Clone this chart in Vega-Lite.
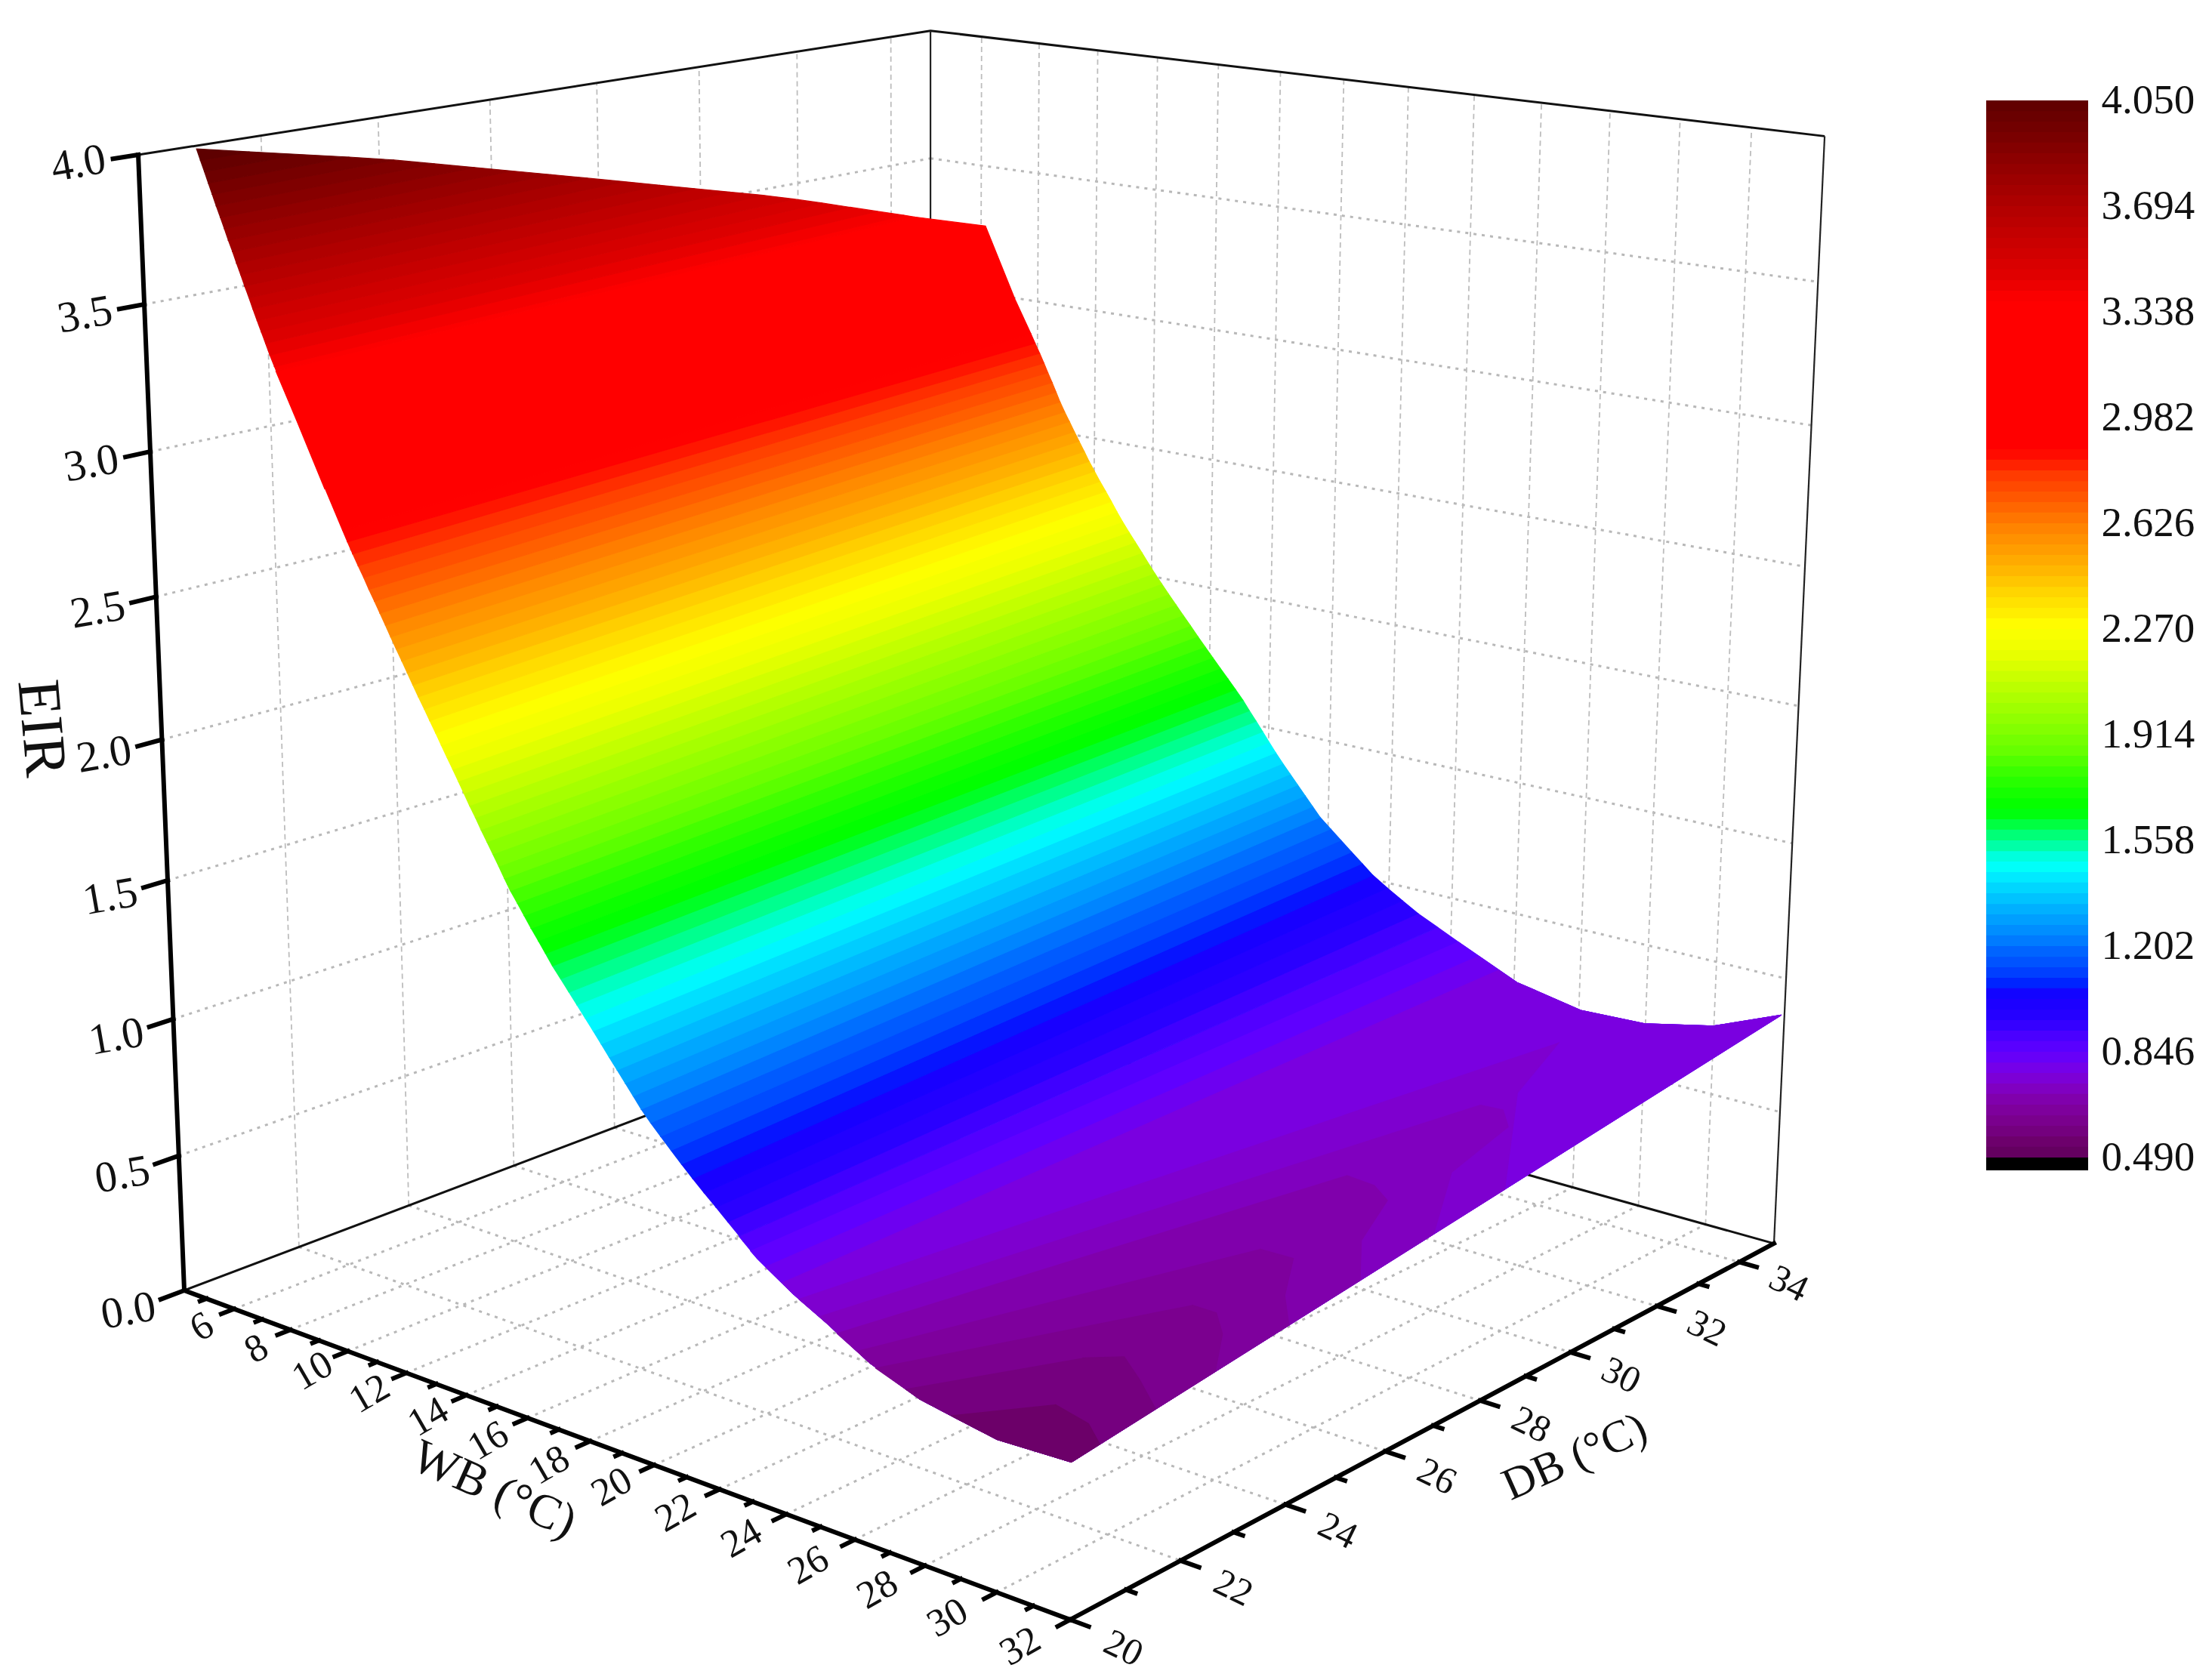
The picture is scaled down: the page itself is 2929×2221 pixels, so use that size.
{"$schema":"https://vega.github.io/schema/vega-lite/v6.json","autosize":{"type":"fit","contains":"padding"},"width":2929,"height":2221,"padding":0,"background":"white","config":{"view":{"stroke":null}},"resolve":{"scale":{"x":"independent","y":"independent"}},
"datasets":{"geo":[
{"t":"dot","i":1,"o":[1,2],"w":[6,6],"d":[20,34.87],"z":[0,0]},{"t":"dot","i":2,"o":[1,2],"w":[8,8],"d":[20,34.87],"z":[0,0]},{"t":"dot","i":3,"o":[1,2],"w":[10,10],"d":[20,34.87],"z":[0,0]},{"t":"dot","i":4,"o":[1,2],"w":[12,12],"d":[20,34.87],"z":[0,0]},{"t":"dot","i":5,"o":[1,2],"w":[14,14],"d":[20,34.87],"z":[0,0]},{"t":"dot","i":6,"o":[1,2],"w":[16,16],"d":[20,34.87],"z":[0,0]},{"t":"dot","i":7,"o":[1,2],"w":[18,18],"d":[20,34.87],"z":[0,0]},{"t":"dot","i":8,"o":[1,2],"w":[20,20],"d":[20,34.87],"z":[0,0]},{"t":"dot","i":9,"o":[1,2],"w":[22,22],"d":[20,34.87],"z":[0,0]},{"t":"dot","i":10,"o":[1,2],"w":[24,24],"d":[20,34.87],"z":[0,0]},{"t":"dot","i":11,"o":[1,2],"w":[26,26],"d":[20,34.87],"z":[0,0]},{"t":"dot","i":12,"o":[1,2],"w":[28,28],"d":[20,34.87],"z":[0,0]},{"t":"dot","i":13,"o":[1,2],"w":[30,30],"d":[20,34.87],"z":[0,0]},
{"t":"dot","i":14,"o":[1,2],"w":[4.19,32],"d":[22,22],"z":[0,0]},{"t":"dot","i":15,"o":[1,2],"w":[4.19,32],"d":[24,24],"z":[0,0]},{"t":"dot","i":16,"o":[1,2],"w":[4.19,32],"d":[26,26],"z":[0,0]},{"t":"dot","i":17,"o":[1,2],"w":[4.19,32],"d":[28,28],"z":[0,0]},{"t":"dot","i":18,"o":[1,2],"w":[4.19,32],"d":[30,30],"z":[0,0]},{"t":"dot","i":19,"o":[1,2],"w":[4.19,32],"d":[32,32],"z":[0,0]},{"t":"dot","i":20,"o":[1,2],"w":[4.19,32],"d":[34,34],"z":[0,0]},
{"t":"dot","i":21,"o":[1,2],"w":[4.19,4.19],"d":[20,34.87],"z":[0.5,0.5]},{"t":"dot","i":22,"o":[1,2],"w":[4.19,4.19],"d":[20,34.87],"z":[1,1]},{"t":"dot","i":23,"o":[1,2],"w":[4.19,4.19],"d":[20,34.87],"z":[1.5,1.5]},{"t":"dot","i":24,"o":[1,2],"w":[4.19,4.19],"d":[20,34.87],"z":[2,2]},{"t":"dot","i":25,"o":[1,2],"w":[4.19,4.19],"d":[20,34.87],"z":[2.5,2.5]},{"t":"dot","i":26,"o":[1,2],"w":[4.19,4.19],"d":[20,34.87],"z":[3,3]},{"t":"dot","i":27,"o":[1,2],"w":[4.19,4.19],"d":[20,34.87],"z":[3.5,3.5]},
{"t":"dot","i":28,"o":[1,2],"w":[4.19,32],"d":[34.87,34.87],"z":[0.5,0.5]},{"t":"dot","i":29,"o":[1,2],"w":[4.19,32],"d":[34.87,34.87],"z":[1,1]},{"t":"dot","i":30,"o":[1,2],"w":[4.19,32],"d":[34.87,34.87],"z":[1.5,1.5]},{"t":"dot","i":31,"o":[1,2],"w":[4.19,32],"d":[34.87,34.87],"z":[2,2]},{"t":"dot","i":32,"o":[1,2],"w":[4.19,32],"d":[34.87,34.87],"z":[2.5,2.5]},{"t":"dot","i":33,"o":[1,2],"w":[4.19,32],"d":[34.87,34.87],"z":[3,3]},{"t":"dot","i":34,"o":[1,2],"w":[4.19,32],"d":[34.87,34.87],"z":[3.5,3.5]},
{"t":"dash","i":40,"o":[1,2],"w":[4.19,4.19],"d":[22,22],"z":[0,4]},{"t":"dash","i":41,"o":[1,2],"w":[4.19,4.19],"d":[24,24],"z":[0,4]},{"t":"dash","i":42,"o":[1,2],"w":[4.19,4.19],"d":[26,26],"z":[0,4]},{"t":"dash","i":43,"o":[1,2],"w":[4.19,4.19],"d":[28,28],"z":[0,4]},{"t":"dash","i":44,"o":[1,2],"w":[4.19,4.19],"d":[30,30],"z":[0,4]},{"t":"dash","i":45,"o":[1,2],"w":[4.19,4.19],"d":[32,32],"z":[0,4]},{"t":"dash","i":46,"o":[1,2],"w":[4.19,4.19],"d":[34,34],"z":[0,4]},
{"t":"dash","i":47,"o":[1,2],"w":[6,6],"d":[34.87,34.87],"z":[0,4]},{"t":"dash","i":48,"o":[1,2],"w":[8,8],"d":[34.87,34.87],"z":[0,4]},{"t":"dash","i":49,"o":[1,2],"w":[10,10],"d":[34.87,34.87],"z":[0,4]},{"t":"dash","i":50,"o":[1,2],"w":[12,12],"d":[34.87,34.87],"z":[0,4]},{"t":"dash","i":51,"o":[1,2],"w":[14,14],"d":[34.87,34.87],"z":[0,4]},{"t":"dash","i":52,"o":[1,2],"w":[16,16],"d":[34.87,34.87],"z":[0,4]},{"t":"dash","i":53,"o":[1,2],"w":[18,18],"d":[34.87,34.87],"z":[0,4]},{"t":"dash","i":54,"o":[1,2],"w":[20,20],"d":[34.87,34.87],"z":[0,4]},{"t":"dash","i":55,"o":[1,2],"w":[22,22],"d":[34.87,34.87],"z":[0,4]},{"t":"dash","i":56,"o":[1,2],"w":[24,24],"d":[34.87,34.87],"z":[0,4]},{"t":"dash","i":57,"o":[1,2],"w":[26,26],"d":[34.87,34.87],"z":[0,4]},{"t":"dash","i":58,"o":[1,2],"w":[28,28],"d":[34.87,34.87],"z":[0,4]},{"t":"dash","i":59,"o":[1,2],"w":[30,30],"d":[34.87,34.87],"z":[0,4]},
{"t":"frame","i":60,"o":[1,2,3],"w":[4.19,4.19,32],"d":[20,34.87,34.87],"z":[0,0,0]},{"t":"frame","i":61,"o":[1,2,3],"w":[4.19,4.19,32],"d":[20,34.87,34.87],"z":[4,4,4]},
{"t":"hair","i":62,"o":[1,2],"w":[4.19,4.19],"d":[34.87,34.87],"z":[0,4]},{"t":"hair","i":63,"o":[1,2],"w":[32,32],"d":[34.87,34.87],"z":[0,4]},
{"t":"axis","i":70,"o":[1,2],"w":[4.19,32],"d":[20,20],"z":[0,0]},{"t":"axis","i":71,"o":[1,2],"w":[32,32],"d":[20,34.87],"z":[0,0]},{"t":"axis","i":72,"o":[1,2],"w":[4.19,4.19],"d":[20,20],"z":[0,4]},
{"t":"axis","i":73,"o":[1,2],"w":[4.19,4.19],"d":[20,19.6],"z":[0,0]},{"t":"axis","i":74,"o":[1,2],"w":[4.19,4.19],"d":[20,19.6],"z":[0.5,0.5]},{"t":"axis","i":75,"o":[1,2],"w":[4.19,4.19],"d":[20,19.6],"z":[1,1]},{"t":"axis","i":76,"o":[1,2],"w":[4.19,4.19],"d":[20,19.6],"z":[1.5,1.5]},{"t":"axis","i":77,"o":[1,2],"w":[4.19,4.19],"d":[20,19.6],"z":[2,2]},{"t":"axis","i":78,"o":[1,2],"w":[4.19,4.19],"d":[20,19.6],"z":[2.5,2.5]},{"t":"axis","i":79,"o":[1,2],"w":[4.19,4.19],"d":[20,19.6],"z":[3,3]},{"t":"axis","i":80,"o":[1,2],"w":[4.19,4.19],"d":[20,19.6],"z":[3.5,3.5]},{"t":"axis","i":81,"o":[1,2],"w":[4.19,4.19],"d":[20,19.6],"z":[4,4]},
{"t":"axis","i":82,"o":[1,2],"w":[6,6],"d":[20,19.78],"z":[0,0]},{"t":"axis","i":83,"o":[1,2],"w":[8,8],"d":[20,19.78],"z":[0,0]},{"t":"axis","i":84,"o":[1,2],"w":[10,10],"d":[20,19.78],"z":[0,0]},{"t":"axis","i":85,"o":[1,2],"w":[12,12],"d":[20,19.78],"z":[0,0]},{"t":"axis","i":86,"o":[1,2],"w":[14,14],"d":[20,19.78],"z":[0,0]},{"t":"axis","i":87,"o":[1,2],"w":[16,16],"d":[20,19.78],"z":[0,0]},{"t":"axis","i":88,"o":[1,2],"w":[18,18],"d":[20,19.78],"z":[0,0]},{"t":"axis","i":89,"o":[1,2],"w":[20,20],"d":[20,19.78],"z":[0,0]},{"t":"axis","i":90,"o":[1,2],"w":[22,22],"d":[20,19.78],"z":[0,0]},{"t":"axis","i":91,"o":[1,2],"w":[24,24],"d":[20,19.78],"z":[0,0]},{"t":"axis","i":92,"o":[1,2],"w":[26,26],"d":[20,19.78],"z":[0,0]},{"t":"axis","i":93,"o":[1,2],"w":[28,28],"d":[20,19.78],"z":[0,0]},{"t":"axis","i":94,"o":[1,2],"w":[30,30],"d":[20,19.78],"z":[0,0]},{"t":"axis","i":95,"o":[1,2],"w":[32,32],"d":[20,19.78],"z":[0,0]},
{"t":"axis","i":96,"o":[1,2],"w":[5,5],"d":[20,19.89],"z":[0,0]},{"t":"axis","i":97,"o":[1,2],"w":[7,7],"d":[20,19.89],"z":[0,0]},{"t":"axis","i":98,"o":[1,2],"w":[9,9],"d":[20,19.89],"z":[0,0]},{"t":"axis","i":99,"o":[1,2],"w":[11,11],"d":[20,19.89],"z":[0,0]},{"t":"axis","i":100,"o":[1,2],"w":[13,13],"d":[20,19.89],"z":[0,0]},{"t":"axis","i":101,"o":[1,2],"w":[15,15],"d":[20,19.89],"z":[0,0]},{"t":"axis","i":102,"o":[1,2],"w":[17,17],"d":[20,19.89],"z":[0,0]},{"t":"axis","i":103,"o":[1,2],"w":[19,19],"d":[20,19.89],"z":[0,0]},{"t":"axis","i":104,"o":[1,2],"w":[21,21],"d":[20,19.89],"z":[0,0]},{"t":"axis","i":105,"o":[1,2],"w":[23,23],"d":[20,19.89],"z":[0,0]},{"t":"axis","i":106,"o":[1,2],"w":[25,25],"d":[20,19.89],"z":[0,0]},{"t":"axis","i":107,"o":[1,2],"w":[27,27],"d":[20,19.89],"z":[0,0]},{"t":"axis","i":108,"o":[1,2],"w":[29,29],"d":[20,19.89],"z":[0,0]},{"t":"axis","i":109,"o":[1,2],"w":[31,31],"d":[20,19.89],"z":[0,0]},
{"t":"axis","i":110,"o":[1,2],"w":[32,32.5],"d":[20,20],"z":[0,0]},{"t":"axis","i":111,"o":[1,2],"w":[32,32.5],"d":[22,22],"z":[0,0]},{"t":"axis","i":112,"o":[1,2],"w":[32,32.5],"d":[24,24],"z":[0,0]},{"t":"axis","i":113,"o":[1,2],"w":[32,32.5],"d":[26,26],"z":[0,0]},{"t":"axis","i":114,"o":[1,2],"w":[32,32.5],"d":[28,28],"z":[0,0]},{"t":"axis","i":115,"o":[1,2],"w":[32,32.5],"d":[30,30],"z":[0,0]},{"t":"axis","i":116,"o":[1,2],"w":[32,32.5],"d":[32,32],"z":[0,0]},{"t":"axis","i":117,"o":[1,2],"w":[32,32.5],"d":[34,34],"z":[0,0]},
{"t":"axis","i":118,"o":[1,2],"w":[32,32.25],"d":[21,21],"z":[0,0]},{"t":"axis","i":119,"o":[1,2],"w":[32,32.25],"d":[23,23],"z":[0,0]},{"t":"axis","i":120,"o":[1,2],"w":[32,32.25],"d":[25,25],"z":[0,0]},{"t":"axis","i":121,"o":[1,2],"w":[32,32.25],"d":[27,27],"z":[0,0]},{"t":"axis","i":122,"o":[1,2],"w":[32,32.25],"d":[29,29],"z":[0,0]},{"t":"axis","i":123,"o":[1,2],"w":[32,32.25],"d":[31,31],"z":[0,0]},{"t":"axis","i":124,"o":[1,2],"w":[32,32.25],"d":[33,33],"z":[0,0]},
{"t":"s","b":0.864,"o":[1,2,3,4,5,6,7,8,9,10,11,12,13,14,15,16],"w":[22.67,23.21,24.25,25.22,26.45,27.86,28.72,30,32,32,30.07,28.07,26.15,24.19,22.43,21.68],"d":[20,20,20,20,20,20,20,20,20,34.79,34.79,34.79,34.79,34.79,34.79,34.79],"z":[0.882,0.827,0.75,0.69,0.607,0.544,0.526,0.5,0.51,0.87,0.766,0.71,0.7,0.745,0.84,0.882]},
{"t":"s","b":0.828,"o":[1,2,3,4,5,6,7,8,9,10,11,12,13,14,15,16],"w":[23,23.21,24.25,25.22,26.45,27.86,28.72,30,32,32,30.07,28.07,26.15,24.19,22.43,22.33],"d":[20,20,20,20,20,20,20,20,20,34.79,34.79,34.79,34.79,34.79,34.79,34.79],"z":[0.846,0.827,0.75,0.69,0.607,0.544,0.526,0.5,0.51,0.87,0.766,0.71,0.7,0.745,0.84,0.846]},
{"t":"s","b":0.793,"o":[1,2,3,4,5,6,7,8,9,10,11,12,13,14],"w":[23.44,24.25,25.22,26.45,27.86,28.72,30,32,32,30.07,28.07,26.15,24.19,22.97],"d":[20,20,20,20,20,20,20,20,34.79,34.79,34.79,34.79,34.79,34.79],"z":[0.81,0.75,0.69,0.607,0.544,0.526,0.5,0.51,0.87,0.766,0.71,0.7,0.745,0.81]},
{"t":"s","b":0.757,"o":[1,2,3,4,5,6,7,8,9,10,11,12,13,14],"w":[23.92,24.25,25.22,26.45,27.86,28.72,30,32,32,30.07,28.07,26.15,24.19,23.6],"d":[20,20,20,20,20,20,20,20,34.79,34.79,34.79,34.79,34.79,34.79],"z":[0.775,0.75,0.69,0.607,0.544,0.526,0.5,0.51,0.87,0.766,0.71,0.7,0.745,0.775]},
{"t":"s","b":0.728,"o":[1,2,3,4,5,6,7,8,9,10],"w":[24.4,25.22,26.45,27.86,28.72,30,32,32,28.83,27.54],"d":[20,20,20,20,20,20,20,28.4,31.16,33.15],"z":[0.739,0.69,0.607,0.544,0.526,0.5,0.51,0.714,0.739,0.739]},
{"t":"s","b":0.7,"o":[1,2,3,4,5,6,7,8,9,10,11,12],"w":[25,25.22,26.45,27.86,28.72,30,32,32,30.34,29.62,28.87,28.24],"d":[20,20,20,20,20,20,20,26.9,28.54,30.34,30.81,30.77],"z":[0.704,0.69,0.607,0.544,0.526,0.5,0.51,0.678,0.704,0.704,0.704,0.704]},
{"t":"s","b":0.668,"o":[1,2,3,4,5,6,7,8,9,10,11],"w":[25.5,26.45,27.86,28.72,30,32,32,30.89,29.89,29.1,28.22],"d":[20,20,20,20,20,20,25.4,26.24,27.52,27.83,27.89],"z":[0.668,0.607,0.544,0.526,0.5,0.51,0.641,0.668,0.668,0.668,0.668]},
{"t":"s","b":0.635,"o":[1,2,3,4,5,6,7,8,9,10],"w":[26.08,26.45,27.86,28.72,30,32,32,31.17,30.01,29.09],"d":[20,20,20,20,20,20,24,24.51,25.51,25.49],"z":[0.632,0.607,0.544,0.526,0.5,0.51,0.607,0.632,0.632,0.632]},
{"t":"s","b":0.6,"o":[1,2,3,4,5,6,7,8,9],"w":[26.6,27.86,28.72,30,32,32,31.1,30.27,29.59],"d":[20,20,20,20,20,22.6,23.36,23.82,23.82],"z":[0.597,0.544,0.526,0.5,0.51,0.573,0.597,0.597,0.597]},
{"t":"s","b":0.565,"o":[1,2,3,4,5,6,7,8,9],"w":[27.45,27.86,28.72,30,32,32,30.94,29.9,29.25],"d":[20,20,20,20,20,21.5,21.93,22.34,22],"z":[0.561,0.544,0.526,0.5,0.51,0.547,0.561,0.561,0.561]},
{"t":"s","b":0.52,"o":[1,2,3,4,5,6],"w":[28.72,30,32,32,31.2,30.03],"d":[20,20,20,20.5,20.83,21],"z":[0.526,0.5,0.51,0.522,0.526,0.526]},
{"t":"s","b":0.9,"o":[1,2,3,4],"w":[22.67,21.68,21.05,22.33],"d":[20,34.79,34.79,20],"z":[0.882,0.882,0.917,0.917]},
{"t":"s","b":0.935,"o":[1,2,3,4],"w":[22.33,21.05,20.54,21.98],"d":[20,34.79,34.79,20],"z":[0.917,0.917,0.953,0.953]},
{"t":"s","b":0.97,"o":[1,2,3,4],"w":[21.98,20.54,20.05,21.63],"d":[20,34.79,34.79,20],"z":[0.953,0.953,0.988,0.988]},
{"t":"s","b":1.006,"o":[1,2,3,4],"w":[21.63,20.05,19.58,21.29],"d":[20,34.79,34.79,20],"z":[0.988,0.988,1.024,1.024]},
{"t":"s","b":1.042,"o":[1,2,3,4],"w":[21.29,19.58,19.23,20.96],"d":[20,34.79,34.79,20],"z":[1.024,1.024,1.06,1.06]},
{"t":"s","b":1.078,"o":[1,2,3,4],"w":[20.96,19.23,18.88,20.65],"d":[20,34.79,34.79,20],"z":[1.06,1.06,1.095,1.095]},
{"t":"s","b":1.113,"o":[1,2,3,4],"w":[20.65,18.88,18.53,20.34],"d":[20,34.79,34.79,20],"z":[1.095,1.095,1.131,1.131]},
{"t":"s","b":1.149,"o":[1,2,3,4],"w":[20.34,18.53,18.19,20.04],"d":[20,34.79,34.79,20],"z":[1.131,1.131,1.166,1.166]},
{"t":"s","b":1.184,"o":[1,2,3,4],"w":[20.04,18.19,17.84,19.76],"d":[20,34.79,34.79,20],"z":[1.166,1.166,1.202,1.202]},
{"t":"s","b":1.22,"o":[1,2,3,4],"w":[19.76,17.84,17.59,19.52],"d":[20,34.79,34.79,20],"z":[1.202,1.202,1.238,1.238]},
{"t":"s","b":1.256,"o":[1,2,3,4],"w":[19.52,17.59,17.34,19.28],"d":[20,34.79,34.79,20],"z":[1.238,1.238,1.273,1.273]},
{"t":"s","b":1.291,"o":[1,2,3,4],"w":[19.28,17.34,17.09,19.04],"d":[20,34.79,34.79,20],"z":[1.273,1.273,1.309,1.309]},
{"t":"s","b":1.327,"o":[1,2,3,4],"w":[19.04,17.09,16.84,18.8],"d":[20,34.79,34.79,20],"z":[1.309,1.309,1.344,1.344]},
{"t":"s","b":1.362,"o":[1,2,3,4],"w":[18.8,16.84,16.59,18.56],"d":[20,34.79,34.79,20],"z":[1.344,1.344,1.38,1.38]},
{"t":"s","b":1.398,"o":[1,2,3,4],"w":[18.56,16.59,16.35,18.32],"d":[20,34.79,34.79,20],"z":[1.38,1.38,1.416,1.416]},
{"t":"s","b":1.433,"o":[1,2,3,4],"w":[18.32,16.35,16.13,18.08],"d":[20,34.79,34.79,20],"z":[1.416,1.416,1.451,1.451]},
{"t":"s","b":1.469,"o":[1,2,3,4],"w":[18.08,16.13,15.91,17.83],"d":[20,34.79,34.79,20],"z":[1.451,1.451,1.487,1.487]},
{"t":"s","b":1.504,"o":[1,2,3,4],"w":[17.83,15.91,15.69,17.59],"d":[20,34.79,34.79,20],"z":[1.487,1.487,1.522,1.522]},
{"t":"s","b":1.54,"o":[1,2,3,4],"w":[17.59,15.69,15.46,17.34],"d":[20,34.79,34.79,20],"z":[1.522,1.522,1.558,1.558]},
{"t":"s","b":1.576,"o":[1,2,3,4],"w":[17.34,15.46,15.24,17.09],"d":[20,34.79,34.79,20],"z":[1.558,1.558,1.594,1.594]},
{"t":"s","b":1.611,"o":[1,2,3,4],"w":[17.09,15.24,14.99,16.88],"d":[20,34.79,34.79,20],"z":[1.594,1.594,1.629,1.629]},
{"t":"s","b":1.647,"o":[1,2,3,4],"w":[16.88,14.99,14.73,16.66],"d":[20,34.79,34.79,20],"z":[1.629,1.629,1.665,1.665]},
{"t":"s","b":1.682,"o":[1,2,3,4],"w":[16.66,14.73,14.47,16.44],"d":[20,34.79,34.79,20],"z":[1.665,1.665,1.7,1.7]},
{"t":"s","b":1.718,"o":[1,2,3,4],"w":[16.44,14.47,14.21,16.23],"d":[20,34.79,34.79,20],"z":[1.7,1.7,1.736,1.736]},
{"t":"s","b":1.754,"o":[1,2,3,4],"w":[16.23,14.21,13.95,16.02],"d":[20,34.79,34.79,20],"z":[1.736,1.736,1.772,1.772]},
{"t":"s","b":1.79,"o":[1,2,3,4],"w":[16.02,13.95,13.7,15.81],"d":[20,34.79,34.79,20],"z":[1.772,1.772,1.807,1.807]},
{"t":"s","b":1.825,"o":[1,2,3,4],"w":[15.81,13.7,13.45,15.63],"d":[20,34.79,34.79,20],"z":[1.807,1.807,1.843,1.843]},
{"t":"s","b":1.86,"o":[1,2,3,4],"w":[15.63,13.45,13.2,15.46],"d":[20,34.79,34.79,20],"z":[1.843,1.843,1.878,1.878]},
{"t":"s","b":1.896,"o":[1,2,3,4],"w":[15.46,13.2,12.95,15.28],"d":[20,34.79,34.79,20],"z":[1.878,1.878,1.914,1.914]},
{"t":"s","b":1.932,"o":[1,2,3,4],"w":[15.28,12.95,12.7,15.1],"d":[20,34.79,34.79,20],"z":[1.914,1.914,1.95,1.95]},
{"t":"s","b":1.968,"o":[1,2,3,4],"w":[15.1,12.7,12.46,14.92],"d":[20,34.79,34.79,20],"z":[1.95,1.95,1.985,1.985]},
{"t":"s","b":2.003,"o":[1,2,3,4],"w":[14.92,12.46,12.22,14.75],"d":[20,34.79,34.79,20],"z":[1.985,1.985,2.021,2.021]},
{"t":"s","b":2.038,"o":[1,2,3,4],"w":[14.75,12.22,12,14.57],"d":[20,34.79,34.79,20],"z":[2.021,2.021,2.056,2.056]},
{"t":"s","b":2.074,"o":[1,2,3,4],"w":[14.57,12,11.78,14.4],"d":[20,34.79,34.79,20],"z":[2.056,2.056,2.092,2.092]},
{"t":"s","b":2.11,"o":[1,2,3,4],"w":[14.4,11.78,11.55,14.23],"d":[20,34.79,34.79,20],"z":[2.092,2.092,2.128,2.128]},
{"t":"s","b":2.146,"o":[1,2,3,4],"w":[14.23,11.55,11.33,14.06],"d":[20,34.79,34.79,20],"z":[2.128,2.128,2.163,2.163]},
{"t":"s","b":2.181,"o":[1,2,3,4],"w":[14.06,11.33,11.11,13.88],"d":[20,34.79,34.79,20],"z":[2.163,2.163,2.199,2.199]},
{"t":"s","b":2.217,"o":[1,2,3,4],"w":[13.88,11.11,10.91,13.71],"d":[20,34.79,34.79,20],"z":[2.199,2.199,2.234,2.234]},
{"t":"s","b":2.252,"o":[1,2,3,4],"w":[13.71,10.91,10.72,13.54],"d":[20,34.79,34.79,20],"z":[2.234,2.234,2.27,2.27]},
{"t":"s","b":2.288,"o":[1,2,3,4],"w":[13.54,10.72,10.52,13.36],"d":[20,34.79,34.79,20],"z":[2.27,2.27,2.306,2.306]},
{"t":"s","b":2.323,"o":[1,2,3,4],"w":[13.36,10.52,10.32,13.19],"d":[20,34.79,34.79,20],"z":[2.306,2.306,2.341,2.341]},
{"t":"s","b":2.359,"o":[1,2,3,4],"w":[13.19,10.32,10.13,13.01],"d":[20,34.79,34.79,20],"z":[2.341,2.341,2.377,2.377]},
{"t":"s","b":2.394,"o":[1,2,3,4],"w":[13.01,10.13,9.94,12.84],"d":[20,34.79,34.79,20],"z":[2.377,2.377,2.412,2.412]},
{"t":"s","b":2.43,"o":[1,2,3,4],"w":[12.84,9.94,9.77,12.67],"d":[20,34.79,34.79,20],"z":[2.412,2.412,2.448,2.448]},
{"t":"s","b":2.466,"o":[1,2,3,4],"w":[12.67,9.77,9.59,12.5],"d":[20,34.79,34.79,20],"z":[2.448,2.448,2.484,2.484]},
{"t":"s","b":2.501,"o":[1,2,3,4],"w":[12.5,9.59,9.42,12.33],"d":[20,34.79,34.79,20],"z":[2.484,2.484,2.519,2.519]},
{"t":"s","b":2.537,"o":[1,2,3,4],"w":[12.33,9.42,9.25,12.16],"d":[20,34.79,34.79,20],"z":[2.519,2.519,2.555,2.555]},
{"t":"s","b":2.572,"o":[1,2,3,4],"w":[12.16,9.25,9.08,12],"d":[20,34.79,34.79,20],"z":[2.555,2.555,2.59,2.59]},
{"t":"s","b":2.608,"o":[1,2,3,4],"w":[12,9.08,8.92,11.83],"d":[20,34.79,34.79,20],"z":[2.59,2.59,2.626,2.626]},
{"t":"s","b":2.644,"o":[1,2,3,4],"w":[11.83,8.92,8.78,11.66],"d":[20,34.79,34.79,20],"z":[2.626,2.626,2.662,2.662]},
{"t":"s","b":2.679,"o":[1,2,3,4],"w":[11.66,8.78,8.64,11.49],"d":[20,34.79,34.79,20],"z":[2.662,2.662,2.697,2.697]},
{"t":"s","b":2.715,"o":[1,2,3,4],"w":[11.49,8.64,8.49,11.33],"d":[20,34.79,34.79,20],"z":[2.697,2.697,2.733,2.733]},
{"t":"s","b":2.75,"o":[1,2,3,4],"w":[11.33,8.49,8.35,11.16],"d":[20,34.79,34.79,20],"z":[2.733,2.733,2.768,2.768]},
{"t":"s","b":2.786,"o":[1,2,3,4],"w":[11.16,8.35,8.2,10.99],"d":[20,34.79,34.79,20],"z":[2.768,2.768,2.804,2.804]},
{"t":"s","b":2.822,"o":[1,2,3,4],"w":[10.99,8.2,8.04,10.83],"d":[20,34.79,34.79,20],"z":[2.804,2.804,2.84,2.84]},
{"t":"s","b":2.858,"o":[1,2,3,4],"w":[10.83,8.04,7.89,10.68],"d":[20,34.79,34.79,20],"z":[2.84,2.84,2.875,2.875]},
{"t":"s","b":3.1,"o":[1,2,3,4,5,6,7,8],"w":[10.68,7.89,7.33,6.28,6.25,8.64,9.28,10.15],"d":[20,34.79,34.79,34.79,33.24,20,20,20],"z":[2.875,2.875,3,3.27,3.36,3.36,3.21,3]},
{"t":"s","b":3.367,"o":[1,2,3,4],"w":[8.64,6.25,6.25,8.58],"d":[20,33.24,33.02,20],"z":[3.36,3.36,3.374,3.374]},
{"t":"s","b":3.392,"o":[1,2,3,4],"w":[8.58,6.25,6.25,8.44],"d":[20,33.02,32.45,20],"z":[3.374,3.374,3.409,3.409]},
{"t":"s","b":3.427,"o":[1,2,3,4],"w":[8.44,6.25,6.25,8.31],"d":[20,32.45,31.87,20],"z":[3.409,3.409,3.445,3.445]},
{"t":"s","b":3.463,"o":[1,2,3,4],"w":[8.31,6.25,6.25,8.18],"d":[20,31.87,31.29,20],"z":[3.445,3.445,3.481,3.481]},
{"t":"s","b":3.498,"o":[1,2,3,4],"w":[8.18,6.25,6.25,8.05],"d":[20,31.29,30.71,20],"z":[3.481,3.481,3.516,3.516]},
{"t":"s","b":3.534,"o":[1,2,3,4],"w":[8.05,6.25,6.25,7.92],"d":[20,30.71,30.08,20],"z":[3.516,3.516,3.552,3.552]},
{"t":"s","b":3.57,"o":[1,2,3,4],"w":[7.92,6.25,6.25,7.8],"d":[20,30.08,29.41,20],"z":[3.552,3.552,3.587,3.587]},
{"t":"s","b":3.605,"o":[1,2,3,4],"w":[7.8,6.25,6.25,7.67],"d":[20,29.41,28.72,20],"z":[3.587,3.587,3.623,3.623]},
{"t":"s","b":3.641,"o":[1,2,3,4],"w":[7.67,6.25,6.25,7.55],"d":[20,28.72,28.05,20],"z":[3.623,3.623,3.658,3.658]},
{"t":"s","b":3.676,"o":[1,2,3,4],"w":[7.55,6.25,6.25,7.42],"d":[20,28.05,27.37,20],"z":[3.658,3.658,3.694,3.694]},
{"t":"s","b":3.712,"o":[1,2,3,4],"w":[7.42,6.25,6.25,7.3],"d":[20,27.37,26.68,20],"z":[3.694,3.694,3.73,3.73]},
{"t":"s","b":3.748,"o":[1,2,3,4],"w":[7.3,6.25,6.25,7.17],"d":[20,26.68,26.01,20],"z":[3.73,3.73,3.765,3.765]},
{"t":"s","b":3.783,"o":[1,2,3,4],"w":[7.17,6.25,6.25,7.05],"d":[20,26.01,25.31,20],"z":[3.765,3.765,3.801,3.801]},
{"t":"s","b":3.819,"o":[1,2,3,4],"w":[7.05,6.25,6.25,6.93],"d":[20,25.31,24.63,20],"z":[3.801,3.801,3.836,3.836]},
{"t":"s","b":3.854,"o":[1,2,3,4],"w":[6.93,6.25,6.25,6.8],"d":[20,24.63,23.93,20],"z":[3.836,3.836,3.872,3.872]},
{"t":"s","b":3.89,"o":[1,2,3,4],"w":[6.8,6.25,6.25,6.68],"d":[20,23.93,23.23,20],"z":[3.872,3.872,3.908,3.908]},
{"t":"s","b":3.925,"o":[1,2,3,4],"w":[6.68,6.25,6.25,6.56],"d":[20,23.23,22.47,20],"z":[3.908,3.908,3.943,3.943]},
{"t":"s","b":3.961,"o":[1,2,3,4],"w":[6.56,6.25,6.25,6.44],"d":[20,22.47,21.64,20],"z":[3.943,3.943,3.979,3.979]},
{"t":"s","b":3.997,"o":[1,2,3,4],"w":[6.44,6.25,6.25,6.32],"d":[20,21.64,20.83,20],"z":[3.979,3.979,4.014,4.014]},
{"t":"s","b":4.032,"o":[1,2,3],"w":[6.32,6.25,6.2],"d":[20,20.83,20],"z":[4.014,4.014,4.05]}
],
"labels":[
{"t":"z","s":"0.0","w":4.19,"d":19.06,"z":0},{"t":"z","s":"0.5","w":4.19,"d":19.06,"z":0.5},{"t":"z","s":"1.0","w":4.19,"d":19.06,"z":1},{"t":"z","s":"1.5","w":4.19,"d":19.06,"z":1.5},{"t":"z","s":"2.0","w":4.19,"d":19.06,"z":2},{"t":"z","s":"2.5","w":4.19,"d":19.06,"z":2.5},{"t":"z","s":"3.0","w":4.19,"d":19.06,"z":3},{"t":"z","s":"3.5","w":4.19,"d":19.06,"z":3.5},{"t":"z","s":"4.0","w":4.19,"d":19.06,"z":4},
{"t":"wb","s":"6","w":6,"d":19.45,"z":-0.02},{"t":"wb","s":"8","w":8,"d":19.42,"z":-0.02},{"t":"wb","s":"10","w":10,"d":19.4,"z":-0.02},{"t":"wb","s":"12","w":12,"d":19.37,"z":-0.02},{"t":"wb","s":"14","w":14,"d":19.35,"z":-0.02},{"t":"wb","s":"16","w":16,"d":19.33,"z":-0.02},{"t":"wb","s":"18","w":18,"d":19.3,"z":-0.02},{"t":"wb","s":"20","w":20,"d":19.28,"z":-0.01},{"t":"wb","s":"22","w":22,"d":19.25,"z":-0.01},{"t":"wb","s":"24","w":24,"d":19.23,"z":-0.01},{"t":"wb","s":"26","w":26,"d":19.2,"z":-0.01},{"t":"wb","s":"28","w":28,"d":19.18,"z":0},{"t":"wb","s":"30","w":30,"d":19.15,"z":0},{"t":"wb","s":"32","w":32,"d":19.13,"z":0},
{"t":"db","s":"20","w":33.42,"d":20,"z":-0.03},{"t":"db","s":"22","w":33.42,"d":22,"z":-0.03},{"t":"db","s":"24","w":33.42,"d":24,"z":-0.03},{"t":"db","s":"26","w":33.42,"d":26,"z":-0.03},{"t":"db","s":"28","w":33.42,"d":28,"z":-0.03},{"t":"db","s":"30","w":33.42,"d":30,"z":-0.03},{"t":"db","s":"32","w":33.42,"d":32,"z":-0.03},{"t":"db","s":"34","w":33.42,"d":34,"z":-0.03},
{"t":"tw","s":"WB (°C)","w":18.23,"d":18.26,"z":0},{"t":"td","s":"DB (°C)","w":35.43,"d":27.34,"z":0},{"t":"te","s":"EIR","w":4.19,"d":18.08,"z":2.15}
],
"bar":[{"l":0.447},{"l":0.49},{"l":0.526},{"l":0.561},{"l":0.597},{"l":0.632},{"l":0.668},{"l":0.704},{"l":0.739},{"l":0.775},{"l":0.81},{"l":0.846},{"l":0.882},{"l":0.917},{"l":0.953},{"l":0.988},{"l":1.024},{"l":1.06},{"l":1.095},{"l":1.131},{"l":1.166},{"l":1.202},{"l":1.238},{"l":1.273},{"l":1.309},{"l":1.344},{"l":1.38},{"l":1.416},{"l":1.451},{"l":1.487},{"l":1.522},{"l":1.558},{"l":1.594},{"l":1.629},{"l":1.665},{"l":1.7},{"l":1.736},{"l":1.772},{"l":1.807},{"l":1.843},{"l":1.878},{"l":1.914},{"l":1.95},{"l":1.985},{"l":2.021},{"l":2.056},{"l":2.092},{"l":2.128},{"l":2.163},{"l":2.199},{"l":2.234},{"l":2.27},{"l":2.306},{"l":2.341},{"l":2.377},{"l":2.412},{"l":2.448},{"l":2.484},{"l":2.519},{"l":2.555},{"l":2.59},{"l":2.626},{"l":2.662},{"l":2.697},{"l":2.733},{"l":2.768},{"l":2.804},{"l":2.84},{"l":2.875},{"l":3.338},{"l":3.374},{"l":3.409},{"l":3.445},{"l":3.481},{"l":3.516},{"l":3.552},{"l":3.587},{"l":3.623},{"l":3.658},{"l":3.694},{"l":3.73},{"l":3.765},{"l":3.801},{"l":3.836},{"l":3.872},{"l":3.908},{"l":3.943},{"l":3.979},{"l":4.014}],
"ticks":[{"v":0.49,"s":"0.490"},{"v":0.846,"s":"0.846"},{"v":1.202,"s":"1.202"},{"v":1.558,"s":"1.558"},{"v":1.914,"s":"1.914"},{"v":2.27,"s":"2.270"},{"v":2.626,"s":"2.626"},{"v":2.982,"s":"2.982"},{"v":3.338,"s":"3.338"},{"v":3.694,"s":"3.694"},{"v":4.05,"s":"4.050"}]
},
"layer":[
{"data":{"name":"geo"},
"transform":[{"flatten":["w","d","z","o"]},
{"calculate":"1-0.1429*(datum.w-4.19)/27.81+0.1694*(datum.d-20)*0.06726-0.05815*datum.z/4","as":"den"},
{"calculate":"(244+970.5*(datum.w-4.19)/27.81+1196.6*(datum.d-20)*0.06726-71.6*datum.z/4)/datum.den","as":"px"},
{"calculate":"(1709+129.5*(datum.w-4.19)/27.81-147.9*(datum.d-20)*0.06726-1515.9*datum.z/4)/datum.den","as":"py"}],
"encoding":{"x":{"field":"px","type":"quantitative","scale":{"domain":[0,2929],"nice":false,"zero":false},"axis":null},"y":{"field":"py","type":"quantitative","scale":{"domain":[2221,0],"nice":false,"zero":false},"axis":null},"order":{"field":"o","type":"quantitative"}},
"layer":[
{"transform":[{"filter":"datum.t=='dot'"}],"mark":{"type":"line","color":"#b8b8b8","strokeWidth":3,"strokeDash":[4,7]},"encoding":{"detail":{"field":"i"}}},
{"transform":[{"filter":"datum.t=='dash'"}],"mark":{"type":"line","color":"#bdbdbd","strokeWidth":1.8,"strokeDash":[7,5]},"encoding":{"detail":{"field":"i"}}},
{"transform":[{"filter":"datum.t=='frame'"}],"mark":{"type":"line","color":"#111111","strokeWidth":3},"encoding":{"detail":{"field":"i"}}},
{"transform":[{"filter":"datum.t=='hair'"}],"mark":{"type":"line","color":"#222222","strokeWidth":2.2},"encoding":{"detail":{"field":"i"}}},
{"transform":[{"filter":"datum.t=='axis'"}],"mark":{"type":"line","color":"#000000","strokeWidth":6,"strokeCap":"square"},"encoding":{"detail":{"field":"i"}}},
{"transform":[{"filter":"datum.t=='s'"}],"mark":{"type":"line","strokeWidth":1.2},"encoding":{"fill":{"field":"b","type":"quantitative","legend":null,"scale":{"interpolate":"rgb","domain":[0.447,0.489,0.49,0.513,0.564,0.615,0.665,0.716,0.767,0.826,0.877,0.935,1.02,1.055,1.106,1.16,1.21,1.26,1.31,1.36,1.41,1.444,1.487,1.52,1.571,1.615,1.64,1.673,1.76,1.843,1.927,2.013,2.097,2.18,2.263,2.3,2.37,2.445,2.51,2.58,2.62,2.69,2.766,2.83,2.86,3.36,3.445,3.6,3.75,3.91,4.05],"range":["#000000","#000000","#640060","#6a0066","#75007f","#7d0095","#8000aa","#8000c8","#7800e6","#6000ff","#4d00ff","#2a00ff","#1400ff","#0020ff","#0048ff","#0060ff","#0080ff","#0099ff","#00b0ff","#00ccff","#00e6ff","#00ffff","#00ffdd","#00ffaa","#00ff66","#00ff20","#00ff00","#08ff00","#33ff00","#66ff00","#88ff00","#aaff00","#ccff00","#eeff00","#ffff00","#fff000","#ffd800","#ffb800","#ffa000","#ff8800","#ff7800","#ff5a00","#ff3c00","#ff1000","#ff0000","#ff0000","#e00000","#c00000","#a00000","#7a0000","#5a0000"]}},"stroke":{"field":"b","type":"quantitative","legend":null,"scale":{"interpolate":"rgb","domain":[0.447,0.489,0.49,0.513,0.564,0.615,0.665,0.716,0.767,0.826,0.877,0.935,1.02,1.055,1.106,1.16,1.21,1.26,1.31,1.36,1.41,1.444,1.487,1.52,1.571,1.615,1.64,1.673,1.76,1.843,1.927,2.013,2.097,2.18,2.263,2.3,2.37,2.445,2.51,2.58,2.62,2.69,2.766,2.83,2.86,3.36,3.445,3.6,3.75,3.91,4.05],"range":["#000000","#000000","#640060","#6a0066","#75007f","#7d0095","#8000aa","#8000c8","#7800e6","#6000ff","#4d00ff","#2a00ff","#1400ff","#0020ff","#0048ff","#0060ff","#0080ff","#0099ff","#00b0ff","#00ccff","#00e6ff","#00ffff","#00ffdd","#00ffaa","#00ff66","#00ff20","#00ff00","#08ff00","#33ff00","#66ff00","#88ff00","#aaff00","#ccff00","#eeff00","#ffff00","#fff000","#ffd800","#ffb800","#ffa000","#ff8800","#ff7800","#ff5a00","#ff3c00","#ff1000","#ff0000","#ff0000","#e00000","#c00000","#a00000","#7a0000","#5a0000"]}}}}
]},
{"data":{"name":"labels"},
"transform":[
{"calculate":"1-0.1429*(datum.w-4.19)/27.81+0.1694*(datum.d-20)*0.06726-0.05815*datum.z/4","as":"den"},
{"calculate":"(244+970.5*(datum.w-4.19)/27.81+1196.6*(datum.d-20)*0.06726-71.6*datum.z/4)/datum.den","as":"px"},
{"calculate":"(1709+129.5*(datum.w-4.19)/27.81-147.9*(datum.d-20)*0.06726-1515.9*datum.z/4)/datum.den","as":"py"}],
"encoding":{"x":{"field":"px","type":"quantitative","scale":{"domain":[0,2929],"nice":false,"zero":false},"axis":null},"y":{"field":"py","type":"quantitative","scale":{"domain":[2221,0],"nice":false,"zero":false},"axis":null},"text":{"field":"s"}},
"layer":[
{"transform":[{"filter":"datum.t=='z'"}],"mark":{"type":"text","font":"Liberation Serif","fontSize":58,"angle":350,"color":"#111111","baseline":"middle","align":"center"}},
{"transform":[{"filter":"datum.t=='wb'"}],"mark":{"type":"text","font":"Liberation Serif","fontSize":52,"angle":330,"color":"#111111","baseline":"middle","align":"center"}},
{"transform":[{"filter":"datum.t=='db'"}],"mark":{"type":"text","font":"Liberation Serif","fontSize":50,"angle":26,"color":"#111111","baseline":"middle","align":"center"}},
{"transform":[{"filter":"datum.t=='tw'"}],"mark":{"type":"text","font":"Liberation Serif","fontSize":64,"angle":24,"color":"#111111","baseline":"middle","align":"center"}},
{"transform":[{"filter":"datum.t=='td'"}],"mark":{"type":"text","font":"Liberation Serif","fontSize":60,"angle":336,"color":"#111111","baseline":"middle","align":"center"}},
{"transform":[{"filter":"datum.t=='te'"}],"mark":{"type":"text","font":"Liberation Serif","fontSize":80,"angle":85,"color":"#111111","baseline":"middle","align":"center"}}
]},
{"layer":[
{"data":{"name":"bar"},"mark":{"type":"rect"},"encoding":{"x":{"datum":0,"type":"quantitative","scale":{"domain":[0,1],"range":[2630,2765],"nice":false,"zero":false},"axis":null},"x2":{"datum":1},"y":{"field":"l","type":"quantitative","scale":{"domain":[0.49,4.05],"range":[1533,133],"nice":false,"zero":false},"axis":null},"y2":{"datum":4.05},"fill":{"field":"l","type":"quantitative","legend":null,"scale":{"interpolate":"rgb","domain":[0.447,0.489,0.49,0.513,0.564,0.615,0.665,0.716,0.767,0.826,0.877,0.935,1.02,1.055,1.106,1.16,1.21,1.26,1.31,1.36,1.41,1.444,1.487,1.52,1.571,1.615,1.64,1.673,1.76,1.843,1.927,2.013,2.097,2.18,2.263,2.3,2.37,2.445,2.51,2.58,2.62,2.69,2.766,2.83,2.86,3.36,3.445,3.6,3.75,3.91,4.05],"range":["#000000","#000000","#640060","#6a0066","#75007f","#7d0095","#8000aa","#8000c8","#7800e6","#6000ff","#4d00ff","#2a00ff","#1400ff","#0020ff","#0048ff","#0060ff","#0080ff","#0099ff","#00b0ff","#00ccff","#00e6ff","#00ffff","#00ffdd","#00ffaa","#00ff66","#00ff20","#00ff00","#08ff00","#33ff00","#66ff00","#88ff00","#aaff00","#ccff00","#eeff00","#ffff00","#fff000","#ffd800","#ffb800","#ffa000","#ff8800","#ff7800","#ff5a00","#ff3c00","#ff1000","#ff0000","#ff0000","#e00000","#c00000","#a00000","#7a0000","#5a0000"]}}}},
{"data":{"name":"ticks"},"mark":{"type":"text","font":"Liberation Serif","fontSize":55,"align":"left","baseline":"middle","color":"#111111"},"encoding":{"x":{"datum":1.13,"type":"quantitative"},"y":{"field":"v","type":"quantitative"},"text":{"field":"s"}}}
]}
]}
